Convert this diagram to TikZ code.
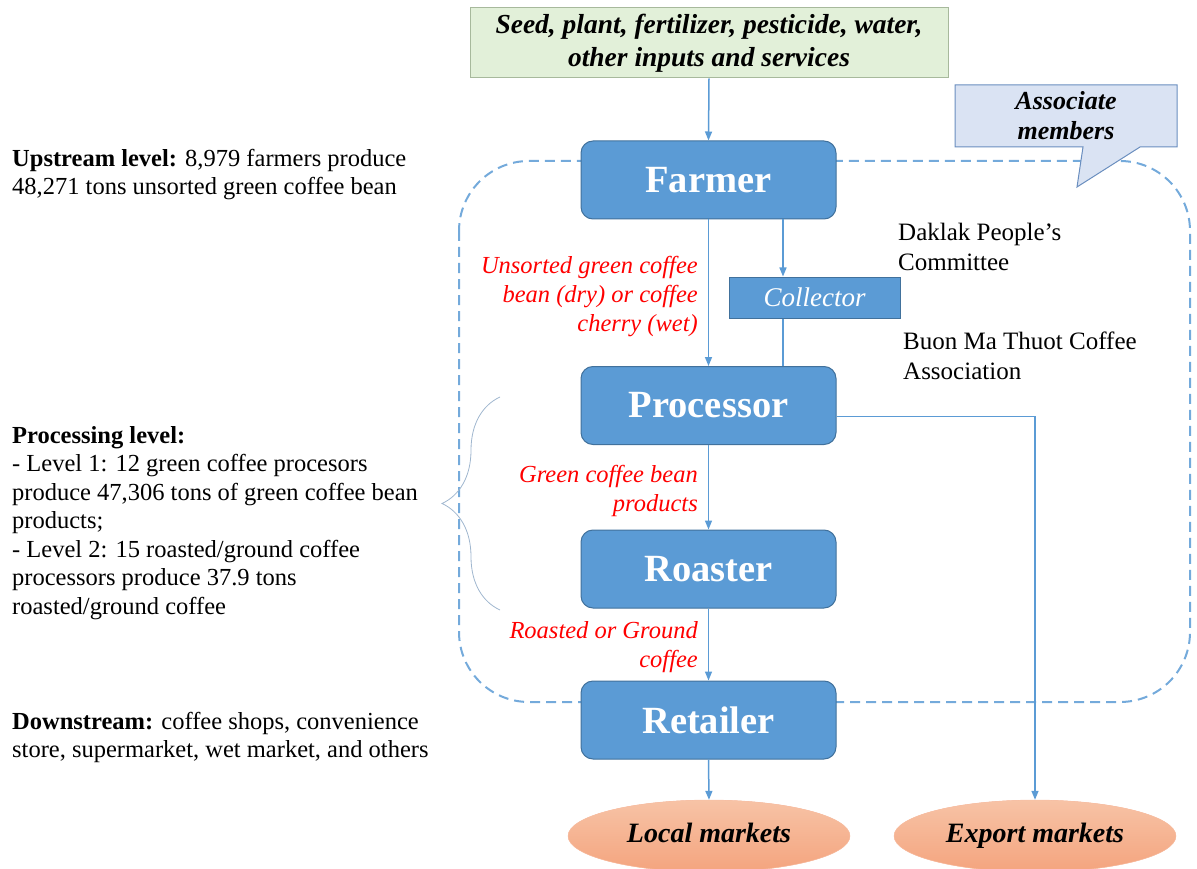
\documentclass[tikz,border=0pt]{standalone}
\usepackage{fontspec}
\setmainfont{Liberation Serif}
\usetikzlibrary{positioning,
				arrows.meta,
				shapes.geometric,
				decorations.pathreplacing}
\definecolor{boxblue}{HTML}{5B9BD5}
\definecolor{boxedge}{HTML}{41719C}
\definecolor{inputfill}{HTML}{E2F0D9}
\definecolor{inputedge}{HTML}{A7B99C}
\definecolor{callfill}{HTML}{DAE3F3}
\definecolor{calledge}{HTML}{6A8EBF}
\definecolor{mktlight}{HTML}{F7C3A6}
\definecolor{mktdark}{HTML}{F4A47E}
\definecolor{braceblue}{HTML}{9FB6CE}

\begin{document}
\begin{tikzpicture}[x=1pt,y=-1pt,
		actor/.style={draw=boxedge, fill=boxblue, line width=1pt, rounded corners=12pt,
			minimum width=255, minimum height=78, text=white,
			font=\fontsize{38.5}{42}\selectfont\bfseries},
		flow/.style={draw=boxblue, line width=1.5pt, -{Triangle[length=9pt,width=7pt]}},
		link/.style={draw=boxblue, line width=1.5pt},
		market/.style={ellipse, draw=mktdark!70, fill=mktdark, top color=mktlight, bottom color=mktdark,
			minimum width=282, minimum height=72, text height=1.2em, text depth=0em,
			font=\fontsize{28}{32}\selectfont\bfseries\itshape},
		note/.style={inner sep=0pt, align=left, font=\fontsize{24.5}{28.5}\selectfont},
		flowlabel/.style={inner sep=0pt, align=right, text=red, font=\fontsize{24.5}{29}\selectfont\itshape}]
		\useasboundingbox (0,0) rectangle (1197,869);

		% membership region and callout
		\draw[boxblue!85, line width=2pt, dash pattern=on 10pt off 6pt, rounded corners=70pt] (459,161) rectangle (1190,702);
		\draw[fill=callfill, draw=calledge, line width=1pt] (955,85) -- (1177,85) -- (1177,147) -- (1140,147) -- (1077,187) -- (1083,147) -- (955,147) -- cycle;
		\node[align=center, font=\fontsize{26}{30}\selectfont\bfseries\itshape] (assoc) at (1066,116) {Associate\\members};

		% inputs
		\node[draw=inputedge, fill=inputfill, line width=1pt, minimum width=478, minimum height=70, align=center,
			font=\fontsize{27.5}{33}\selectfont\bfseries\itshape] (inputs) at (709,43) {Seed, plant, fertilizer, pesticide, water,\\other inputs and services};

		% chain actors
		\node[actor] (farmer) at (708.5,180) {Farmer};
		\node[actor] (processor) at (708.5,405.5) {Processor};
		\node[actor] (roaster) at (708.5,569) {Roaster};
		\node[actor] (retailer) at (708.5,720) {Retailer};
		\node[draw=boxedge, fill=boxblue, line width=1pt, minimum width=171, minimum height=41, text=white,
			font=\fontsize{27}{30}\selectfont\itshape] (collector) at (814.5,297.5) {Collector};

		\node[market] (local) at (709,836) {Local markets};
		\node[market] (export) at (1035,836) {Export markets};

		% connectors
		\coordinate (tap) at (783,0);
		\draw[flow] (inputs.south) -- (farmer.north);
		\draw[flow] (farmer.south) -- (processor.north);
		\draw[flow] (farmer.south -| tap) -- (collector.north -| tap);
		\draw[link] (collector.south -| tap) -- (processor.north -| tap);
		\draw[flow] (processor.south) -- (roaster.north);
		\draw[flow] (roaster.south) -- (retailer.north);
		\draw[flow] (retailer.south) -- (local.north);
		\draw[flow] ([yshift=-11pt]processor.east) -| (export.north);

		% flow labels
		\node[flowlabel, anchor=north east] (beanlabel) at (698,256) {Unsorted green coffee\\bean (dry) or coffee\\cherry (wet)};
		\node[flowlabel, anchor=north east] (greenlabel) at (698,465) {Green coffee bean\\products};
		\node[flowlabel, anchor=north east] (roastlabel) at (698,621) {Roasted or Ground\\coffee};

		% supporting bodies
		\node[note, anchor=north west, font=\fontsize{25}{30}\selectfont] (daklak) at (898,223) {Daklak People’s\\Committee};
		\node[note, anchor=north west, font=\fontsize{25}{30}\selectfont] (bmt) at (903,332) {Buon Ma Thuot Coffee\\Association};

		% level descriptions
		\node[note, anchor=north west] (upstream) at (12,149) {\textbf{Upstream level:} 8,979 farmers produce\\48,271 tons unsorted green coffee bean};
		\node[note, anchor=north west] (processing) at (12,426) {\textbf{Processing level:}\\- Level 1: 12 green coffee procesors\\produce 47,306 tons of green coffee bean\\products;\\- Level 2: 15 roasted/ground coffee\\processors produce 37.9 tons\\roasted/ground coffee};
		\node[note, anchor=north west] (downstream) at (12,712) {\textbf{Downstream:} coffee shops, convenience\\store, supermarket, wet market, and others};
		\draw[braceblue, line width=0.8pt, decorate, decoration={brace, amplitude=58pt}] (500,610) -- (500,397);
\end{tikzpicture}
\end{document}
